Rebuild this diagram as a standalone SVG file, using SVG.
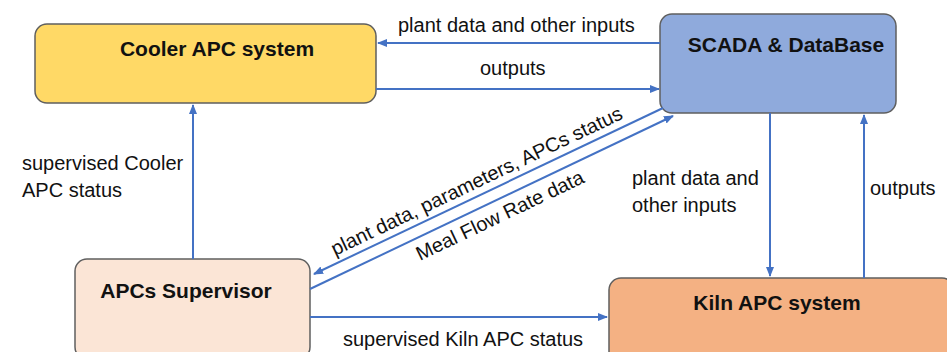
<svg xmlns="http://www.w3.org/2000/svg" width="947" height="352" viewBox="0 0 947 352">
<defs>
<marker id="ah" viewBox="0 0 10 10" refX="9" refY="5" markerWidth="5" markerHeight="5" orient="auto" markerUnits="strokeWidth">
<path d="M0,1 L10,5 L0,9 Z" fill="#4472c4"/>
</marker>
<style>
.box{stroke:#5f5f5f;stroke-width:1.5}
.title{font-family:"Liberation Sans",Arial,sans-serif;font-weight:bold;font-size:21px;fill:#111;text-anchor:middle}
.lbl{font-family:"Liberation Sans",Arial,sans-serif;font-size:20px;fill:#111}
.conn{stroke:#4472c4;stroke-width:2;fill:none;marker-end:url(#ah)}
</style>
</defs>
<rect width="947" height="352" fill="#fff"/>
<g id="cooler">
<rect class="box" x="35" y="24" width="341" height="79" rx="12" fill="#ffd966"/>
<text class="title" x="217" y="56">Cooler APC system</text>
</g>
<g id="scada">
<rect class="box" x="660" y="14" width="236" height="99" rx="12" fill="#8faadc"/>
<text class="title" x="786" y="52">SCADA &amp; DataBase</text>
</g>
<g id="supervisor">
<rect class="box" x="75" y="259" width="235" height="100" rx="12" fill="#fbe5d6"/>
<text class="title" x="186" y="298">APCs Supervisor</text>
</g>
<g id="kiln">
<rect class="box" x="609" y="278" width="345" height="90" rx="12" fill="#f4b183"/>
<text class="title" x="777" y="310">Kiln APC system</text>
</g>
<g id="connectors">
<line class="conn" x1="660" y1="43" x2="378" y2="43"/>
<line class="conn" x1="376" y1="89" x2="659" y2="89"/>
<line class="conn" x1="193" y1="259" x2="193" y2="105"/>
<line class="conn" x1="663" y1="108" x2="314" y2="274"/>
<line class="conn" x1="310" y1="289" x2="673" y2="116"/>
<line class="conn" x1="310" y1="317" x2="607" y2="317"/>
<line class="conn" x1="770" y1="113" x2="770" y2="276"/>
<line class="conn" x1="864" y1="278" x2="864" y2="115"/>
</g>
<g id="labels">
<text class="lbl" x="398" y="32">plant data and other inputs</text>
<text class="lbl" x="480" y="75">outputs</text>
<text class="lbl" x="22" y="170">supervised Cooler</text>
<text class="lbl" x="22" y="197">APC status</text>
<text class="lbl" x="335" y="256" transform="rotate(-25.5 335 256)">plant data, parameters, APCs status</text>
<text class="lbl" x="420" y="261" transform="rotate(-25.5 420 261)">Meal Flow Rate data</text>
<text class="lbl" x="632" y="185">plant data and</text>
<text class="lbl" x="632" y="212">other inputs</text>
<text class="lbl" x="870" y="195">outputs</text>
<text class="lbl" x="343" y="346">supervised Kiln APC status</text>
</g>
</svg>
